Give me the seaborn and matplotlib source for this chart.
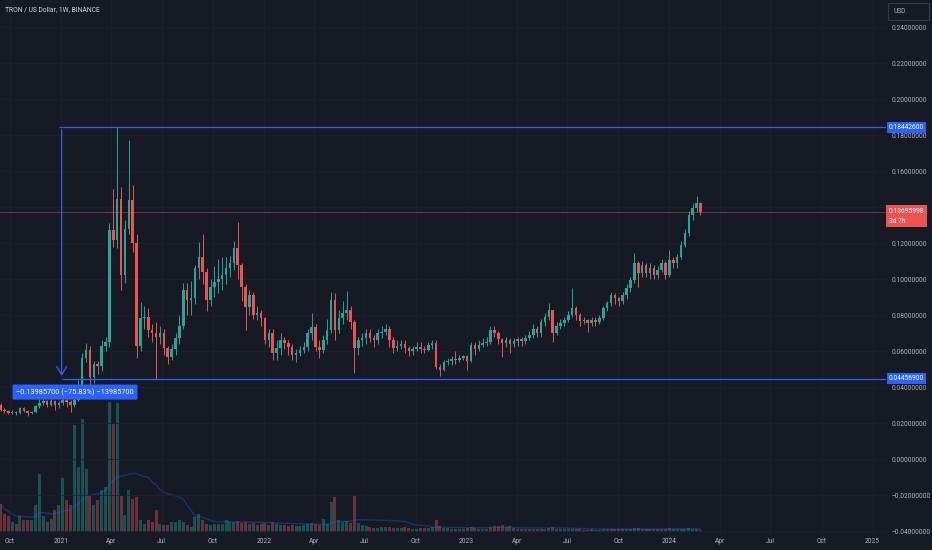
import numpy as np
import pandas as pd
import matplotlib
matplotlib.use("Agg")
import matplotlib.pyplot as plt
import matplotlib.dates as mdates
import matplotlib.transforms as mtransforms
from matplotlib.patches import Rectangle
import seaborn as sns

# weekly TRX/USD candles (open = previous close)
first_week = "2020-09-14"
first_open = 0.0300
close = [
    0.0275, 0.0265, 0.0258, 0.0262, 0.0255, 0.0282, 0.0268, 0.0255, 0.0260, 0.0294,
    0.0312, 0.0322, 0.0300, 0.0320, 0.0300, 0.0310, 0.0328, 0.0315, 0.0300, 0.0330,
    0.0405, 0.0560, 0.0605, 0.0456, 0.0530, 0.0515, 0.0630, 0.0650, 0.1270, 0.1217,
    0.1444, 0.1022, 0.1280, 0.1440, 0.1200, 0.0628, 0.0783, 0.0790, 0.0717, 0.0700,
    0.0680, 0.0700, 0.0617, 0.0567, 0.0610, 0.0670, 0.0740, 0.0940, 0.0883, 0.0895,
    0.1060, 0.1122, 0.1040, 0.0883, 0.0956, 0.0983, 0.1000, 0.1020, 0.1060, 0.1090,
    0.1170, 0.1080, 0.0956, 0.0844, 0.0911, 0.0800, 0.0811, 0.0783, 0.0661, 0.0698,
    0.0589, 0.0615, 0.0664, 0.0643, 0.0624, 0.0578, 0.0589, 0.0606, 0.0624, 0.0698,
    0.0735, 0.0624, 0.0606, 0.0661, 0.0717, 0.0883, 0.0717, 0.0781, 0.0810, 0.0828,
    0.0763, 0.0615, 0.0661, 0.0670, 0.0700, 0.0672, 0.0661, 0.0698, 0.0708, 0.0720,
    0.0661, 0.0615, 0.0630, 0.0640, 0.0615, 0.0600, 0.0610, 0.0624, 0.0610, 0.0606,
    0.0634, 0.0643, 0.0510, 0.0494, 0.0541, 0.0545, 0.0555, 0.0548, 0.0560, 0.0570,
    0.0545, 0.0635, 0.0610, 0.0635, 0.0645, 0.0652, 0.0717, 0.0700, 0.0665, 0.0643,
    0.0660, 0.0640, 0.0655, 0.0665, 0.0655, 0.0672, 0.0690, 0.0720, 0.0698, 0.0760,
    0.0790, 0.0828, 0.0700, 0.0737, 0.0755, 0.0772, 0.0800, 0.0837, 0.0800, 0.0765,
    0.0775, 0.0753, 0.0775, 0.0760, 0.0783, 0.0837, 0.0865, 0.0911, 0.0893, 0.0877,
    0.0911, 0.0948, 0.0995, 0.1087, 0.1032, 0.1078, 0.1032, 0.1060, 0.1023, 0.1050,
    0.1087, 0.1023, 0.1105, 0.1087, 0.1124, 0.1190, 0.1253, 0.1355, 0.1392, 0.1420,
    0.13696,
]
high = [
    0.0310, 0.0285, 0.0272, 0.0270, 0.0268, 0.0290, 0.0290, 0.0272, 0.0268, 0.0300,
    0.0335, 0.0338, 0.0330, 0.0335, 0.0328, 0.0322, 0.0348, 0.0340, 0.0330, 0.0365,
    0.0440, 0.0590, 0.0645, 0.0630, 0.0545, 0.0545, 0.0660, 0.0680, 0.1310, 0.1500,
    0.18443, 0.1510, 0.1330, 0.1770, 0.1520, 0.1250, 0.0870, 0.0850, 0.0840, 0.0750,
    0.0760, 0.0740, 0.0720, 0.0630, 0.0640, 0.0700, 0.0800, 0.0980, 0.0980, 0.0990,
    0.1080, 0.1206, 0.1250, 0.1060, 0.1000, 0.1070, 0.1110, 0.1120, 0.1120, 0.1130,
    0.1210, 0.1317, 0.1090, 0.0970, 0.0940, 0.0930, 0.0850, 0.0830, 0.0790, 0.0720,
    0.0720, 0.0660, 0.0700, 0.0680, 0.0660, 0.0640, 0.0610, 0.0630, 0.0650, 0.0720,
    0.0811, 0.0750, 0.0660, 0.0690, 0.0780, 0.0930, 0.0920, 0.0830, 0.0880, 0.0935,
    0.0850, 0.0770, 0.0680, 0.0700, 0.0720, 0.0720, 0.0690, 0.0720, 0.0740, 0.0750,
    0.0740, 0.0680, 0.0660, 0.0660, 0.0660, 0.0630, 0.0630, 0.0650, 0.0650, 0.0630,
    0.0650, 0.0660, 0.0660, 0.0530, 0.0550, 0.0560, 0.0570, 0.0600, 0.0580, 0.0580,
    0.0580, 0.0650, 0.0650, 0.0660, 0.0670, 0.0680, 0.0740, 0.0740, 0.0710, 0.0670,
    0.0680, 0.0670, 0.0670, 0.0680, 0.0680, 0.0690, 0.0710, 0.0750, 0.0740, 0.0780,
    0.0810, 0.0865, 0.0830, 0.0760, 0.0780, 0.0790, 0.0820, 0.0948, 0.0850, 0.0810,
    0.0790, 0.0780, 0.0790, 0.0790, 0.0800, 0.0850, 0.0880, 0.0930, 0.0920, 0.0900,
    0.0930, 0.0970, 0.1010, 0.1143, 0.1100, 0.1100, 0.1090, 0.1090, 0.1080, 0.1070,
    0.1110, 0.1100, 0.1160, 0.1120, 0.1140, 0.1210, 0.1280, 0.1380, 0.1420, 0.1461,
    0.1430,
]
low = [
    0.0268, 0.0255, 0.0248, 0.0250, 0.0246, 0.0250, 0.0260, 0.0238, 0.0248, 0.0255,
    0.0285, 0.0300, 0.0288, 0.0292, 0.0275, 0.0285, 0.0300, 0.0290, 0.0262, 0.0290,
    0.0320, 0.0380, 0.0540, 0.0390, 0.0420, 0.0475, 0.0490, 0.0600, 0.0620, 0.1180,
    0.1170, 0.0940, 0.0980, 0.1250, 0.1150, 0.0560, 0.0600, 0.0720, 0.0680, 0.0650,
    0.04457, 0.0640, 0.0580, 0.0530, 0.0550, 0.0580, 0.0640, 0.0720, 0.0800, 0.0800,
    0.0860, 0.1000, 0.0970, 0.0820, 0.0850, 0.0900, 0.0920, 0.0940, 0.0970, 0.1010,
    0.1050, 0.1000, 0.0880, 0.0717, 0.0800, 0.0780, 0.0770, 0.0740, 0.0640, 0.0620,
    0.0550, 0.0550, 0.0580, 0.0610, 0.0580, 0.0550, 0.0540, 0.0570, 0.0590, 0.0600,
    0.0660, 0.0600, 0.0560, 0.0590, 0.0640, 0.0700, 0.0660, 0.0700, 0.0750, 0.0770,
    0.0720, 0.0478, 0.0580, 0.0630, 0.0640, 0.0650, 0.0620, 0.0640, 0.0670, 0.0690,
    0.0620, 0.0590, 0.0600, 0.0610, 0.0590, 0.0570, 0.0580, 0.0600, 0.0590, 0.0590,
    0.0600, 0.0610, 0.0500, 0.0460, 0.0490, 0.0520, 0.0520, 0.0530, 0.0540, 0.0550,
    0.0495, 0.0540, 0.0580, 0.0600, 0.0620, 0.0630, 0.0640, 0.0680, 0.0640, 0.0569,
    0.0620, 0.0590, 0.0620, 0.0630, 0.0630, 0.0640, 0.0660, 0.0670, 0.0680, 0.0680,
    0.0740, 0.0770, 0.0652, 0.0690, 0.0720, 0.0740, 0.0760, 0.0790, 0.0770, 0.0740,
    0.0750, 0.0707, 0.0740, 0.0740, 0.0750, 0.0770, 0.0820, 0.0850, 0.0860, 0.0850,
    0.0860, 0.0890, 0.0930, 0.0980, 0.0957, 0.1010, 0.1010, 0.1000, 0.1000, 0.1000,
    0.1040, 0.1000, 0.1010, 0.1060, 0.1060, 0.1110, 0.1180, 0.1240, 0.1330, 0.1370,
    0.1355,
]
# weekly volume, billions of TRX
volume = [
    2.8, 1.8, 1.6, 1.0, 0.8, 1.6, 1.2, 1.2, 1.2, 2.7,
    5.8, 1.6, 1.0, 1.3, 2.2, 2.7, 5.4, 3.2, 2.7, 10.7,
    6.5, 11.3, 6.3, 3.7, 2.7, 3.2, 4.2, 4.5, 13.0, 10.8,
    12.9, 3.6, 1.7, 4.2, 3.3, 3.5, 1.2, 0.8, 1.2, 1.0,
    2.2, 0.8, 0.7, 0.7, 1.0, 1.0, 1.2, 1.0, 0.7, 0.5,
    1.5, 1.8, 1.2, 0.8, 0.7, 0.8, 0.8, 0.8, 1.2, 1.0,
    1.0, 1.1, 0.9, 1.0, 0.8, 0.9, 0.7, 0.8, 0.9, 0.7,
    1.0, 0.8, 0.7, 0.7, 0.6, 0.7, 0.6, 0.6, 0.7, 0.8,
    0.9, 0.8, 0.7, 1.3, 0.8, 3.0, 3.5, 1.2, 1.0, 1.1,
    0.9, 3.6, 0.9, 0.7, 0.6, 0.5, 0.4, 0.4, 0.5, 0.5,
    0.5, 0.4, 0.4, 0.4, 0.5, 0.4, 0.3, 0.3, 0.4, 0.4,
    0.4, 0.5, 1.2, 0.6, 0.4, 0.4, 0.3, 0.3, 0.3, 0.3,
    0.4, 0.5, 0.4, 0.3, 0.3, 0.3, 0.5, 0.6, 0.6, 0.7,
    0.5, 0.6, 0.4, 0.3, 0.3, 0.3, 0.3, 0.3, 0.3, 0.3,
    0.3, 0.4, 0.5, 0.3, 0.3, 0.3, 0.3, 0.3, 0.3, 0.3,
    0.2, 0.2, 0.3, 0.2, 0.2, 0.3, 0.3, 0.3, 0.3, 0.3,
    0.3, 0.3, 0.3, 0.4, 0.4, 0.3, 0.3, 0.3, 0.3, 0.3,
    0.3, 0.3, 0.4, 0.3, 0.3, 0.3, 0.3, 0.4, 0.3, 0.3,
    0.2,
]

range_top = 0.184426
range_bottom = 0.044569
range_start = "2021-01-02"
last_price = 0.13695998
countdown = "3d 7h"
price_ticks = np.round(np.arange(-0.04, 0.2401, 0.02), 2)
month_ticks = pd.date_range("2020-10-01", "2025-01-01", freq="QS")
title = "TRON / US Dollar, 1W, BINANCE"

BG = "#161a25"
UP = "#26a69a"
DOWN = "#ef5350"
BLUE = "#2962ff"
TXT = "#b2b5be"
GRID = "#1e222d"
FS = 4.8

sns.set_theme(style="dark", rc={"axes.facecolor": BG, "figure.facecolor": BG,
                                "text.color": TXT, "xtick.color": TXT, "ytick.color": TXT})
plt.rcParams["font.family"] = ["Roboto", "DejaVu Sans"]

df = pd.DataFrame({
    "week": pd.date_range(first_week, periods=len(close), freq="7D"),
    "close": close, "high": high, "low": low, "volume": volume,
})
df["open"] = np.r_[first_open, df["close"].values[:-1]]
df["x"] = mdates.date2num(df["week"])
df["up"] = df["close"] >= df["open"]
df["color"] = np.where(df["up"], UP, DOWN)
df["vol_ma"] = df["volume"].rolling(20, min_periods=1).mean()

fig = plt.figure(figsize=(9.32, 5.5), dpi=100)
ax_vol = fig.add_axes([0, 15 / 550, 886 / 932, 535 / 550])
ax = ax_vol.twinx()
ax.patch.set_visible(False)

x_left = mdates.date2num(pd.Timestamp("2020-09-13"))
x_right = mdates.date2num(pd.Timestamp("2025-01-25"))

# volume pane
ax_vol.bar(df["x"], df["volume"], width=5.4, color=df["color"], alpha=0.4, lw=0)
sns.lineplot(data=df, x="x", y="vol_ma", ax=ax_vol, color=BLUE, alpha=0.35, lw=1)
vmax = df["volume"].max()
ax_vol.set_ylim(-0.3, vmax * 535 / 130 - 0.3)
ax_vol.set_yticks([])
ax_vol.set_xlabel("")
ax_vol.set_ylabel("")
ax_vol.set_xlim(x_left, x_right)
ax_vol.set_xticks(mdates.date2num(month_ticks))
ax_vol.set_xticklabels([str(d.year) if d.month == 1 else d.strftime("%b") for d in month_ticks])
ax_vol.tick_params(axis="x", length=0, pad=2.5, labelsize=FS, labelcolor=TXT)
ax_vol.grid(axis="x", color=GRID, lw=0.6)

# candles
ax.vlines(df["x"], df["low"], df["high"], colors=df["color"], lw=0.7)
body_lo = np.minimum(df["open"], df["close"])
body_h = np.maximum(np.abs(df["close"] - df["open"]), 0.0004)
ax.bar(df["x"], body_h, bottom=body_lo, width=4.6, color=df["color"], lw=0)

ax.set_ylim(-0.0422, 0.255)
ax.set_yticks(price_ticks)
ax.set_yticklabels([f"{v:.8f}".replace("-", "\u2212") for v in price_ticks])
ax.tick_params(axis="y", length=0, pad=4, labelsize=FS, labelcolor=TXT)
ax.grid(axis="y", color=GRID, lw=0.6)
for a in (ax, ax_vol):
    for s in a.spines.values():
        s.set_visible(False)

# current price line
ax.axhline(last_price, color=DOWN, lw=0.6, alpha=0.55)

# price range measurement
x0 = mdates.date2num(pd.Timestamp(range_start))
ax.hlines([range_top, range_bottom], x0, x_right, colors=BLUE, lw=0.9)
ax.hlines(range_top, x0 - 4, x0, colors=BLUE, lw=0.9)
ax.annotate("", xy=(x0, range_bottom), xytext=(x0, range_top),
            arrowprops=dict(arrowstyle="->,head_width=0.3,head_length=0.5", color=BLUE, lw=0.9))
diff = range_bottom - range_top
label = f"{diff:.8f} ({diff / range_top * 100:.2f}%) {round(diff * 1e8)}".replace("-", "\u2212")
blend = mtransforms.blended_transform_factory(ax.transAxes, ax.transData)
ax.text(75 / 886, 0.0372, label, transform=blend, ha="center", va="center",
        fontsize=5.3, color="white",
        bbox=dict(boxstyle="round,pad=0.5,rounding_size=0.15", fc=BLUE, ec="none"))

# axis price tags
for lvl in (range_top, range_bottom):
    ax.text(1.003, lvl, f"{lvl:.8f}", transform=blend, ha="left", va="center",
            fontsize=FS, color="white", clip_on=False, zorder=5,
            bbox=dict(boxstyle="square,pad=0.3", fc=BLUE, ec="none"))
ax.annotate(f"{last_price:.8f}\n{countdown}", xy=(1.003, last_price), xycoords=blend,
            xytext=(0, 3.5), textcoords="offset points", ha="left", va="top",
            fontsize=FS, color="white", linespacing=1.6, annotation_clip=False, zorder=5,
            bbox=dict(boxstyle="square,pad=0.4", fc=DOWN, ec="none"))

# header
fig.text(5 / 932, 1 - 10 / 550, title, ha="left", va="center", fontsize=4.9, color="#d1d4dc")
fig.add_artist(Rectangle((888 / 932, 1 - 20 / 550), 41 / 932, 17 / 550,
                         transform=fig.transFigure, fill=False, ec="#363a45", lw=0.8))
fig.text(893 / 932, 1 - 11.5 / 550, "USD", ha="left", va="center", fontsize=FS, color=TXT)

fig.savefig("out.png", dpi=100, facecolor=BG)
